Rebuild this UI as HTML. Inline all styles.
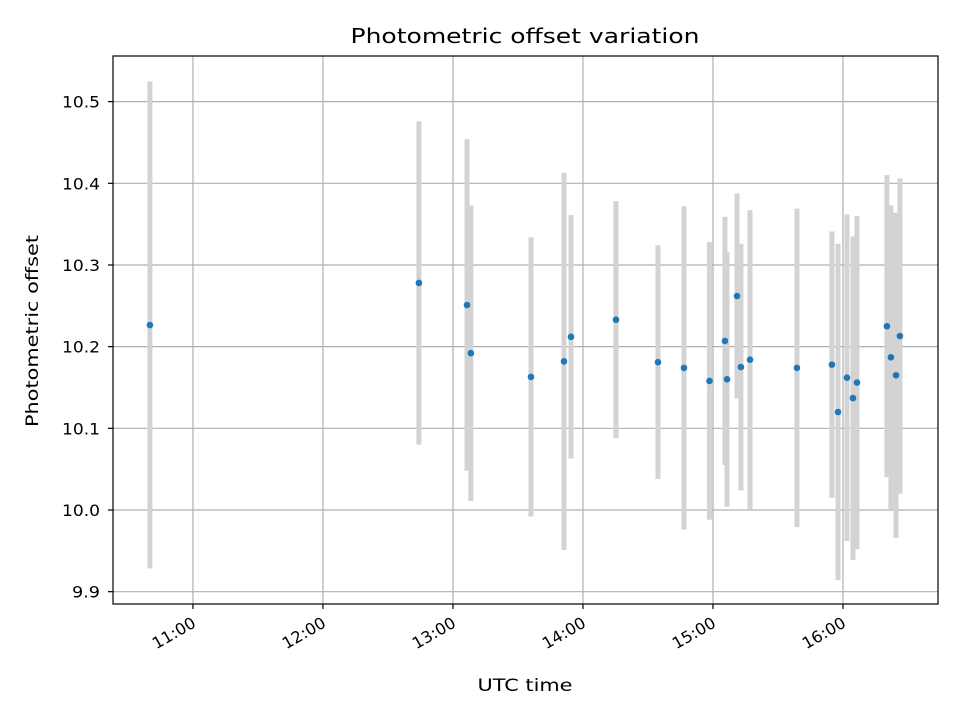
<!DOCTYPE html>
<html><head><meta charset="utf-8"><style>
body{margin:0;background:#fff;}
svg text{font-family:"DejaVu Sans","Liberation Sans",sans-serif;fill:#000;}
</style></head><body>
<svg id="chart" width="960" height="720" xmlns="http://www.w3.org/2000/svg">
<rect width="960" height="720" fill="#fff"/>
<g id="grid"></g>
<g id="bars"></g>
<g id="pts"></g>
<rect x="113" y="56" width="825" height="548" fill="none" stroke="#000" stroke-width="1.2"/>
<g id="ticks"></g>
<text x="525" y="43" text-anchor="middle" font-size="20" textLength="349" lengthAdjust="spacingAndGlyphs">Photometric offset variation</text>
<text x="525" y="691" text-anchor="middle" font-size="17" textLength="95" lengthAdjust="spacingAndGlyphs">UTC time</text>
<text transform="translate(38,331) rotate(-90)" text-anchor="middle" font-size="17" textLength="192" lengthAdjust="spacingAndGlyphs">Photometric offset</text>
</svg>
<script>
const times=[10.669,12.738,13.108,13.138,13.600,13.854,13.908,14.254,14.577,14.777,14.973,15.092,15.108,15.185,15.215,15.285,15.646,15.915,15.962,16.031,16.077,16.108,16.338,16.369,16.408,16.438];
const values=[10.2265,10.278,10.251,10.192,10.163,10.182,10.212,10.233,10.181,10.174,10.158,10.207,10.160,10.262,10.175,10.184,10.174,10.178,10.120,10.162,10.137,10.156,10.225,10.187,10.165,10.213];
const errors=[0.298,0.198,0.203,0.181,0.171,0.231,0.149,0.145,0.143,0.198,0.170,0.152,0.156,0.1255,0.151,0.183,0.195,0.163,0.206,0.200,0.198,0.204,0.185,0.186,0.199,0.193];
const xTickVals=[11,12,13,14,15,16];
const xTickLabels=["11:00","12:00","13:00","14:00","15:00","16:00"];
const yTickVals=[9.9,10.0,10.1,10.2,10.3,10.4,10.5];
const yTickLabels=["9.9","10.0","10.1","10.2","10.3","10.4","10.5"];
const X0=113,X1=938,Y0=56,Y1=604,xMin=10.385,xMax=16.731,yMin=9.8849,yMax=10.5559;
const sx=v=>X0+(v-xMin)/(xMax-xMin)*(X1-X0);
const sy=v=>Y1-(v-yMin)/(yMax-yMin)*(Y1-Y0);
const NS="http://www.w3.org/2000/svg";
function mk(t,a,p){const e=document.createElementNS(NS,t);for(const k in a)e.setAttribute(k,a[k]);p.appendChild(e);return e;}
const grid=document.getElementById('grid'),ticks=document.getElementById('ticks');
xTickVals.forEach((v,i)=>{const x=sx(v);
 const g=mk('line',{x1:x,x2:x,y1:Y0,y2:Y1,stroke:'#b0b0b0','stroke-width':1.2},grid);
 
 mk('line',{x1:x,x2:x,y1:Y1,y2:Y1+5,stroke:'#000','stroke-width':1.2},ticks);
 const t=mk('text',{x:x+4,y:Y1+22,'font-size':16,'text-anchor':'end',textLength:47,lengthAdjust:'spacingAndGlyphs',transform:`rotate(-30 ${x+4} ${Y1+22})`},ticks);
 
 t.textContent=xTickLabels[i];});
yTickVals.forEach((v,i)=>{const y=sy(v);
 const g=mk('line',{x1:X0,x2:X1,y1:y,y2:y,stroke:'#b0b0b0','stroke-width':1.2},grid);
 
 mk('line',{x1:X0-5,x2:X0,y1:y,y2:y,stroke:'#000','stroke-width':1.2},ticks);
 const t=mk('text',{x:X0-13,y:y+6,'font-size':16,'text-anchor':'end',textLength:yTickLabels[i].length===3?28:38,lengthAdjust:'spacingAndGlyphs'},ticks);
 
 t.textContent=yTickLabels[i];});
const bars=document.getElementById('bars'),pts=document.getElementById('pts');
times.forEach((tm,i)=>{const x=sx(tm);
 const b=mk('line',{x1:x,x2:x,y1:sy(values[i]+errors[i]),y2:sy(values[i]-errors[i]),stroke:'#d3d3d3','stroke-width':5},bars);
 
 const c=mk('circle',{cx:x,cy:sy(values[i]),r:3.3,fill:'#1f77b4'},pts);
 });
</script>
</body></html>
